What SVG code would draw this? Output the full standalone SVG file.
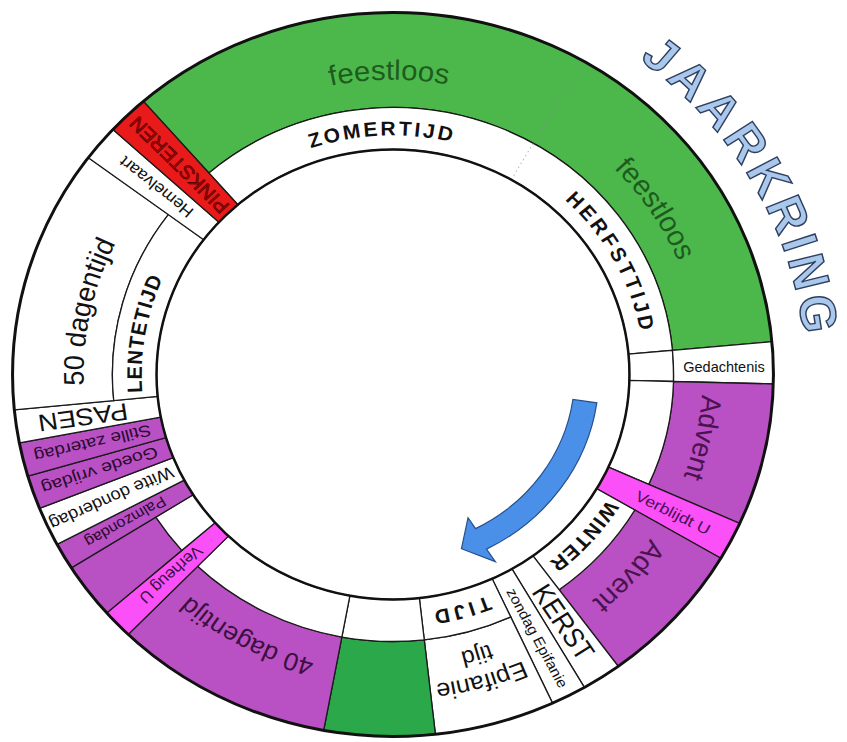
<svg xmlns="http://www.w3.org/2000/svg" width="847" height="742" viewBox="0 0 847 742">
<defs>
<style>
.c{stroke:#1a1a1a;stroke-width:1.3;vector-effect:non-scaling-stroke}
.w{fill:#fff}
.g{fill:#4cb84c}
.g2{fill:#2aa84a}
.p{fill:#b950c3}
.k{fill:#fb50f8}
.r{fill:#e81a1a}
text{font-family:"Liberation Sans",Arial,sans-serif}
.s{font-weight:bold;font-size:20px;fill:#111}
.rad{text-anchor:middle;dominant-baseline:central}
.mid{text-anchor:middle}
</style>
<path id="t239" d="M -206.98 119.5 A 239 239 0 1 1 206.98 -119.5 A 239 239 0 1 1 -206.98 119.5"/>
<path id="t294" d="M -254.61 147 A 294 294 0 1 1 254.61 -147 A 294 294 0 1 1 -254.61 147"/>
<path id="t312" d="M -270.2 156 A 312 312 0 1 1 270.2 -156 A 312 312 0 1 1 -270.2 156"/>
<path id="t284" d="M -245.95 142 A 284 284 0 1 1 245.95 -142 A 284 284 0 1 1 -245.95 142"/>
<path id="t392" d="M -339.48 196 A 392 392 0 1 1 339.48 -196 A 392 392 0 1 1 -339.48 196"/>
</defs>
<rect width="847" height="742" fill="#fff"/>
<g transform="translate(393 374.5) scale(1.051 1)">
<g id="feestloos">
<path class="c g" d="M -237.49 -273.21 A 362 362 0 0 1 360.51 -32.81 L 265.9 -24.2 A 267 267 0 0 0 -175.17 -201.51 Z"/>
<text font-size="28" fill="#1e5c1e" class="mid"><textPath href="#t294" startOffset="613.2">feestloos</textPath></text>
<text font-size="28" fill="#1e5c1e" class="mid"><textPath href="#t294" startOffset="906.7">feestloos</textPath></text>
</g>
<g id="zomer-herfsttijd">
<path class="c w" d="M -175.17 -201.51 A 267 267 0 0 1 265.9 -24.2 L 224.07 -20.39 A 225 225 0 0 0 -147.61 -169.81 Z"/>
<line x1="112.5" y1="-194.86" x2="181" y2="-313.5" stroke="#888" stroke-width="1" stroke-dasharray="1.5 3" opacity="0.6"/>
<text class="s mid" letter-spacing="2.5"><textPath href="#t239" startOffset="490.1">ZOMERTIJD</textPath></text>
<text class="s mid" letter-spacing="3.2"><textPath href="#t239" startOffset="757.9">HERFSTTIJD</textPath></text>
</g>
<g id="gedachtenis">
<path class="c w" d="M 265.9 -24.2 A 267 267 0 0 1 266.91 6.99 L 224.92 5.89 A 225 225 0 0 0 224.07 -20.39 Z"/>
<path class="c w" d="M 360.51 -32.81 A 362 362 0 0 1 361.88 9.48 L 266.91 6.99 A 267 267 0 0 0 265.9 -24.2 Z"/>
</g>
<g id="advent1">
<path class="c p" d="M 361.88 9.48 A 362 362 0 0 1 329.93 148.97 L 243.34 109.87 A 267 267 0 0 0 266.91 6.99 Z"/>
<path class="c w" d="M 266.91 6.99 A 267 267 0 0 1 243.34 109.87 L 205.07 92.59 A 225 225 0 0 0 224.92 5.89 Z"/>
<text font-size="27" fill="#4b1250" class="mid"><textPath href="#t294" startOffset="1141.2">Advent</textPath></text>
</g>
<g id="verblijdt-u">
<path class="c k" d="M 329.93 148.97 A 362 362 0 0 1 311.91 183.73 L 193.87 114.2 A 225 225 0 0 0 205.07 92.59 Z"/>
<text class="rad" font-size="15" fill="#4a0f55" textLength="78" lengthAdjust="spacingAndGlyphs" transform="rotate(27.4) translate(300 0)">Verblijdt U</text>
</g>
<g id="advent2">
<path class="c p" d="M 311.91 183.73 A 362 362 0 0 1 214.3 291.74 L 158.06 215.18 A 267 267 0 0 0 230.06 135.51 Z"/>
<text font-size="27" fill="#4b1250" class="mid"><textPath href="#t294" startOffset="1294.6">Advent</textPath></text>
</g>
<g id="winter">
<path class="c w" d="M 230.06 135.51 A 267 267 0 0 1 158.06 215.18 L 133.2 181.33 A 225 225 0 0 0 193.87 114.2 Z"/>
<text class="s mid" font-size="19" letter-spacing="1"><textPath href="#t239" startOffset="1050">WINTER</textPath></text>
</g>
<g id="kerst">
<path class="c w" d="M 214.3 291.74 A 362 362 0 0 1 182.09 312.87 L 113.18 194.46 A 225 225 0 0 0 133.2 181.33 Z"/>
<text class="rad" font-size="27" fill="#111" textLength="84" lengthAdjust="spacingAndGlyphs" transform="rotate(56.8) translate(296 0)">KERST</text>
</g>
<g id="zondag-epifanie">
<path class="c w" d="M 182.09 312.87 A 362 362 0 0 1 151.84 328.61 L 94.37 204.25 A 225 225 0 0 0 113.18 194.46 Z"/>
<text class="rad" font-size="14" fill="#111" textLength="110" lengthAdjust="spacingAndGlyphs" transform="rotate(62.5) translate(297 0)">zondag Epifanie</text>
</g>
<g id="epifanie-tijd">
<path class="c w" d="M 151.84 328.61 A 362 362 0 0 1 40.35 359.74 L 29.76 265.34 A 267 267 0 0 0 111.99 242.37 Z"/>
<path class="c w" d="M 111.99 242.37 A 267 267 0 0 1 29.76 265.34 L 25.08 223.6 A 225 225 0 0 0 94.37 204.25 Z"/>
<text font-size="24" fill="#111" class="mid"><textPath href="#t312" startOffset="1549.2">Epifanie</textPath></text>
<text font-size="23" fill="#111" class="mid"><textPath href="#t284" startOffset="1410.2">tijd</textPath></text>
<text class="s mid" letter-spacing="3.5"><textPath href="#t239" startOffset="1187.6">TIJD</textPath></text>
</g>
<g id="groen-onder">
<path class="c g2" d="M 40.35 359.74 A 362 362 0 0 1 -65.97 355.94 L -48.66 262.53 A 267 267 0 0 0 29.76 265.34 Z"/>
<path class="c w" d="M 29.76 265.34 A 267 267 0 0 1 -48.66 262.53 L -41 221.23 A 225 225 0 0 0 25.08 223.6 Z"/>
</g>
<g id="veertig-dagentijd">
<path class="c p" d="M -65.97 355.94 A 362 362 0 0 1 -251.93 259.97 L -185.82 191.75 A 267 267 0 0 0 -48.66 262.53 Z"/>
<path class="c w" d="M -48.66 262.53 A 267 267 0 0 1 -185.82 191.75 L -156.59 161.59 A 225 225 0 0 0 -41 221.23 Z"/>
<text font-size="25" fill="#3b1040" class="mid"><textPath href="#t294" startOffset="1685.1">40 dagentijd</textPath></text>
</g>
<g id="verheug-u">
<path class="c k" d="M -251.93 259.97 A 362 362 0 0 1 -272.37 238.44 L -169.29 148.2 A 225 225 0 0 0 -156.59 161.59 Z"/>
<text class="rad" font-size="16" fill="#3d1045" textLength="76" lengthAdjust="spacingAndGlyphs" transform="rotate(136.5) translate(291 0)">Verheug U</text>
</g>
<g id="paars-leeg">
<path class="c p" d="M -272.37 238.44 A 362 362 0 0 1 -305.98 193.43 L -225.68 142.67 A 267 267 0 0 0 -200.89 175.86 Z"/>
<path class="c w" d="M -200.89 175.86 A 267 267 0 0 1 -225.68 142.67 L -190.18 120.23 A 225 225 0 0 0 -169.29 148.2 Z"/>
</g>
<g id="palmzondag">
<path class="c p" d="M -305.98 193.43 A 362 362 0 0 1 -319.63 169.95 L -198.66 105.63 A 225 225 0 0 0 -190.18 120.23 Z"/>
<text class="rad" font-size="15" fill="#2a0a30" textLength="86" lengthAdjust="spacingAndGlyphs" transform="rotate(149.9) translate(294 0)">Palmzondag</text>
</g>
<g id="witte-donderdag">
<path class="c w" d="M -319.63 169.95 A 362 362 0 0 1 -336.33 133.85 L -209.05 83.19 A 225 225 0 0 0 -198.66 105.63 Z"/>
<text class="rad" font-size="17" fill="#111" textLength="128" lengthAdjust="spacingAndGlyphs" transform="rotate(155.2) translate(295 0)">Witte donderdag</text>
</g>
<g id="goede-vrijdag">
<path class="c p" d="M -336.33 133.85 A 362 362 0 0 1 -347.44 101.6 L -215.95 63.15 A 225 225 0 0 0 -209.05 83.19 Z"/>
<text class="rad" font-size="16" fill="#2a0a30" textLength="116" lengthAdjust="spacingAndGlyphs" transform="rotate(161) translate(295 0)">Goede vrijdag</text>
</g>
<g id="stille-zaterdag">
<path class="c p" d="M -347.44 101.6 A 362 362 0 0 1 -355.47 68.45 L -220.94 42.55 A 225 225 0 0 0 -215.95 63.15 Z"/>
<text class="rad" font-size="16" fill="#2a0a30" textLength="114" lengthAdjust="spacingAndGlyphs" transform="rotate(166.4) translate(294 0)">Stille zaterdag</text>
</g>
<g id="pasen">
<path class="c w" d="M -355.47 68.45 A 362 362 0 0 1 -360.27 35.32 L -223.93 21.96 A 225 225 0 0 0 -220.94 42.55 Z"/>
<text class="rad" font-size="24" fill="#111" textLength="86" lengthAdjust="spacingAndGlyphs" transform="rotate(171.75) translate(298 0)">PASEN</text>
</g>
<g id="vijftig-dagentijd">
<path class="c w" d="M -360.27 35.32 A 362 362 0 0 1 -289.86 -216.84 L -213.79 -159.94 A 267 267 0 0 0 -265.73 26.05 Z"/>
<text font-size="27" fill="#111" class="mid"><textPath href="#t294" startOffset="216.5">50 dagentijd</textPath></text>
</g>
<g id="lentetijd">
<path class="c w" d="M -265.73 26.05 A 267 267 0 0 1 -213.79 -159.94 L -180.16 -134.78 A 225 225 0 0 0 -223.93 21.96 Z"/>
<text class="s mid" letter-spacing="1"><textPath href="#t239" startOffset="166">LENTETIJD</textPath></text>
</g>
<g id="hemelvaart">
<path class="c w" d="M -289.86 -216.84 A 362 362 0 0 1 -266.46 -245.02 L -165.62 -152.29 A 225 225 0 0 0 -180.16 -134.78 Z"/>
<text class="rad" font-size="16" fill="#111" textLength="86" lengthAdjust="spacingAndGlyphs" transform="rotate(219.7) translate(293 0)">Hemelvaart</text>
</g>
<g id="pinksteren">
<path class="c r" d="M -266.46 -245.02 A 362 362 0 0 1 -237.49 -273.21 L -147.61 -169.81 A 225 225 0 0 0 -165.62 -152.29 Z"/>
<text class="rad" font-size="19" fill="#b00000" stroke="#4a0000" stroke-width="0.6" textLength="126" lengthAdjust="spacingAndGlyphs" transform="rotate(225.8) translate(292 0)">PINKSTEREN</text>
</g>
<g id="rings" fill="none" stroke="#111">
<circle r="362" stroke-width="3" vector-effect="non-scaling-stroke"/>
<circle r="225" stroke-width="2.5" vector-effect="non-scaling-stroke"/>
</g>
<g id="title">
<text font-size="48" font-weight="bold" fill="#a9c8ec" stroke="#2f3f5f" stroke-width="1.4" letter-spacing="5" class="mid"><textPath href="#t392" startOffset="1238.4">JAARKRING</textPath></text>
</g>
<g id="connectors">
<path d="M 193.95 28.29 A 196 196 0 0 1 88.98 174.64 L 97.43 187.16 L 65.14 174.22 L 71.39 143.19 L 78.54 154.14 A 173 173 0 0 0 171.19 24.97 Z" fill="#4a90e8" stroke="#24508f" stroke-width="1.2" vector-effect="non-scaling-stroke"/>
</g>
</g>
<g id="gedachtenis-label">
<text x="724" y="367" font-size="14.5" fill="#111" class="rad">Gedachtenis</text>
</g>
</svg>
